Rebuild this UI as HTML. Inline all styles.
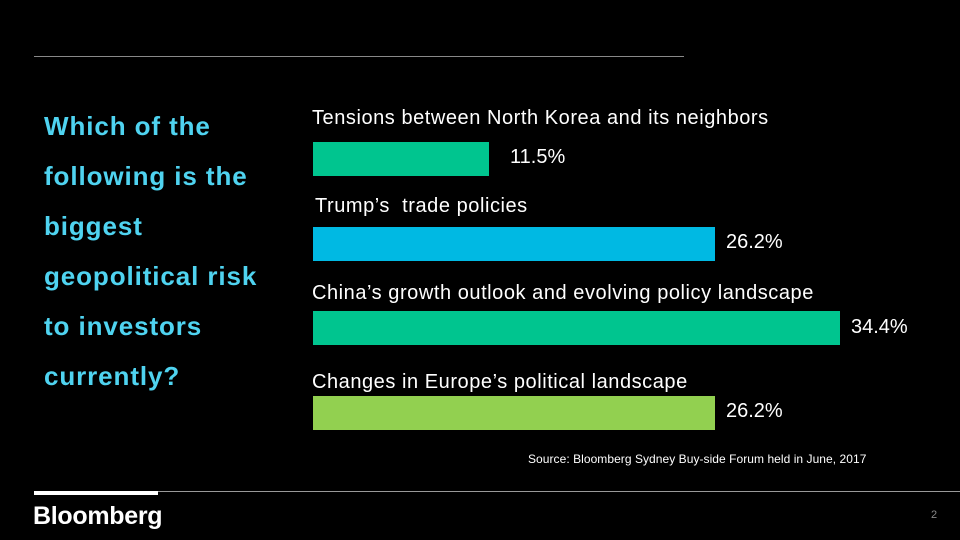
<!DOCTYPE html>
<html><head><style>
body{margin:0;background:#000;width:960px;height:540px;position:relative;overflow:hidden;font-family:"Liberation Sans",sans-serif;color:#fff}
div{position:absolute}
.q{left:44px;color:#4fd3f0;font-weight:bold;font-size:26px;letter-spacing:0.9px}
.l{left:312px;font-size:20px;white-space:nowrap;letter-spacing:0.55px}
.v{font-size:20px}
.b{left:313px;height:34px}
</style></head><body>
<div style="left:34px;top:56px;width:650px;height:1px;background:#888"></div>
<div class="q" style="top:111px">Which of the</div>
<div class="q" style="top:161px">following is the</div>
<div class="q" style="top:211px">biggest</div>
<div class="q" style="top:261px">geopolitical risk</div>
<div class="q" style="top:311px">to investors</div>
<div class="q" style="top:361px">currently?</div>
<div class="l" style="top:107px">Tensions between North Korea and its neighbors</div>
<div class="b" style="top:142px;width:176px;background:#00c58f"></div>
<div class="v" style="left:510px;top:146px">11.5%</div>
<div class="l" style="top:195px;left:315px">Trump’s&nbsp; trade policies</div>
<div class="b" style="top:227px;width:402px;background:#00b9e3"></div>
<div class="v" style="left:726px;top:231px">26.2%</div>
<div class="l" style="top:282px">China’s growth outlook and evolving policy landscape</div>
<div class="b" style="top:311px;width:527px;background:#00c58f"></div>
<div class="v" style="left:851px;top:316px">34.4%</div>
<div class="l" style="top:371px">Changes in Europe’s political landscape</div>
<div class="b" style="top:396px;width:402px;background:#92d050"></div>
<div class="v" style="left:726px;top:400px">26.2%</div>
<div style="left:528px;top:452px;font-size:12px;letter-spacing:0.05px">Source: Bloomberg Sydney Buy-side Forum held in June, 2017</div>
<div style="left:34px;top:491px;width:926px;height:1px;background:#999"></div>
<div style="left:34px;top:491px;width:124px;height:4px;background:#fff"></div>
<div style="left:33px;top:502px;font-size:25px;font-weight:bold;letter-spacing:-0.3px">Bloomberg</div>
<div style="left:931px;top:509px;font-size:11px;color:#888">2</div>
</body></html>
